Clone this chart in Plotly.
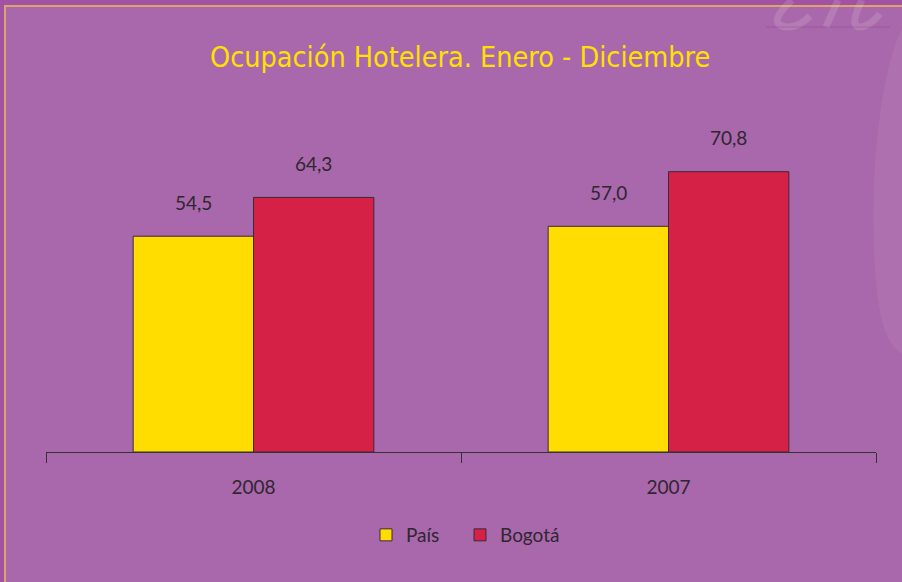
import plotly.graph_objects as go

categories = ["2008", "2007"]
pais = [54.5, 57.0]
bogota = [64.3, 70.8]
pais_labels = ["54,5", "57,0"]
bogota_labels = ["64,3", "70,8"]

BG = "#A968AB"
OUTER = "#A252A2"
BORDER = "#DCA46C"
TXT = "#2f2630"
FONT = "Lato, 'Open Sans', sans-serif"
FAINT = "rgba(255,255,255,0.13)"

W, H = 902, 582
ML, MR, MT, MB = 46, 26, 100, 130


def paper_x(p):
    return (p - ML) / (W - ML - MR)


def paper_y(p):
    return 1 - (p - MT) / (H - MT - MB)


def path(cmds):
    out = []
    for c in cmds:
        if isinstance(c, str):
            out.append(c)
        else:
            out.append(f"{paper_x(c[0]):.5f},{paper_y(c[1]):.5f}")
    return " ".join(out)


fig = go.Figure()
fig.add_trace(go.Bar(name="País", x=categories, y=pais, legend="legend",
                     marker=dict(color="#FFDD00", line=dict(color="#3a2a3a", width=1))))
fig.add_trace(go.Bar(name="Bogotá", x=categories, y=bogota, legend="legend2",
                     marker=dict(color="#D42145", line=dict(color="#3a2a3a", width=1))))

annotations = []
for i in range(len(categories)):
    annotations.append(dict(x=i, y=pais[i], xref="x", yref="y", text=pais_labels[i],
                            showarrow=False, xshift=-60, yshift=34, yanchor="middle",
                            font=dict(size=19, color=TXT, family=FONT)))
    annotations.append(dict(x=i, y=bogota[i], xref="x", yref="y", text=bogota_labels[i],
                            showarrow=False, xshift=60, yshift=34, yanchor="middle",
                            font=dict(size=19, color=TXT, family=FONT)))

# title
annotations.append(dict(x=paper_x(460), y=paper_y(57), xref="paper", yref="paper",
                        text="Ocupación Hotelera. Enero - Diciembre", showarrow=False,
                        yanchor="middle",
                        font=dict(size=28.5, color="#FFE000",
                                  family="'Liberation Sans Narrow', 'DejaVu Sans Condensed', Roboto, sans-serif")))

shapes = [
    dict(type="rect", xref="paper", yref="paper",
         x0=paper_x(5), x1=paper_x(W + 20),
         y0=paper_y(6), y1=paper_y(H + 20),
         fillcolor=BG, line=dict(color=BORDER, width=2), layer="below"),
    # faint watermark strokes
    dict(type="path", xref="paper", yref="paper", layer="below",
         path=path(["M", (905, 22), "C", (878, 70), (866, 200), (878, 300),
                    "C", (884, 340), (895, 352), (905, 354), "Z"]),
         fillcolor="rgba(255,255,255,0.06)", line=dict(width=0)),
    dict(type="path", xref="paper", yref="paper",
         path=path(["M", (792, 0), "Q", (766, 24), (786, 27), "Q", (798, 28), (810, 16)]),
         line=dict(color=FAINT, width=7)),
    dict(type="path", xref="paper", yref="paper",
         path=path(["M", (838, 0), "L", (826, 27)]),
         line=dict(color=FAINT, width=7)),
    dict(type="path", xref="paper", yref="paper",
         path=path(["M", (862, 0), "Q", (850, 24), (858, 27), "Q", (868, 28), (880, 14)]),
         line=dict(color=FAINT, width=7)),
    dict(type="line", xref="paper", yref="paper",
         x0=paper_x(766), x1=paper_x(890), y0=paper_y(27), y1=paper_y(27),
         line=dict(color="rgba(120,40,120,0.25)", width=1)),
]

legend_common = dict(orientation="h", xanchor="left", yanchor="middle", y=paper_y(535),
                     font=dict(size=19, color=TXT, family=FONT), bgcolor="rgba(0,0,0,0)")

fig.update_layout(
    width=W, height=H,
    margin=dict(l=ML, r=MR, t=MT, b=MB),
    paper_bgcolor=OUTER,
    plot_bgcolor="rgba(0,0,0,0)",
    barmode="group",
    bargap=0.42,
    bargroupgap=0,
    showlegend=True,
    legend=dict(x=paper_x(366), **legend_common),
    legend2=dict(x=paper_x(460), **legend_common),
    annotations=annotations,
    xaxis=dict(type="category", range=[-0.5, 1.5], showline=True, linecolor="#333333", linewidth=1,
               ticks="outside", tickson="boundaries", ticklen=10, tickcolor="#333333",
               ticklabelstandoff=18,
               tickfont=dict(size=19, color=TXT, family=FONT), showgrid=False, zeroline=False),
    yaxis=dict(range=[0, 88.9], visible=False, showgrid=False, zeroline=False),
    shapes=shapes,
)

fig.write_html("out.html", config={"displayModeBar": False},
               post_script="document.body.style.margin='0px';document.body.style.background='#A252A2';")
